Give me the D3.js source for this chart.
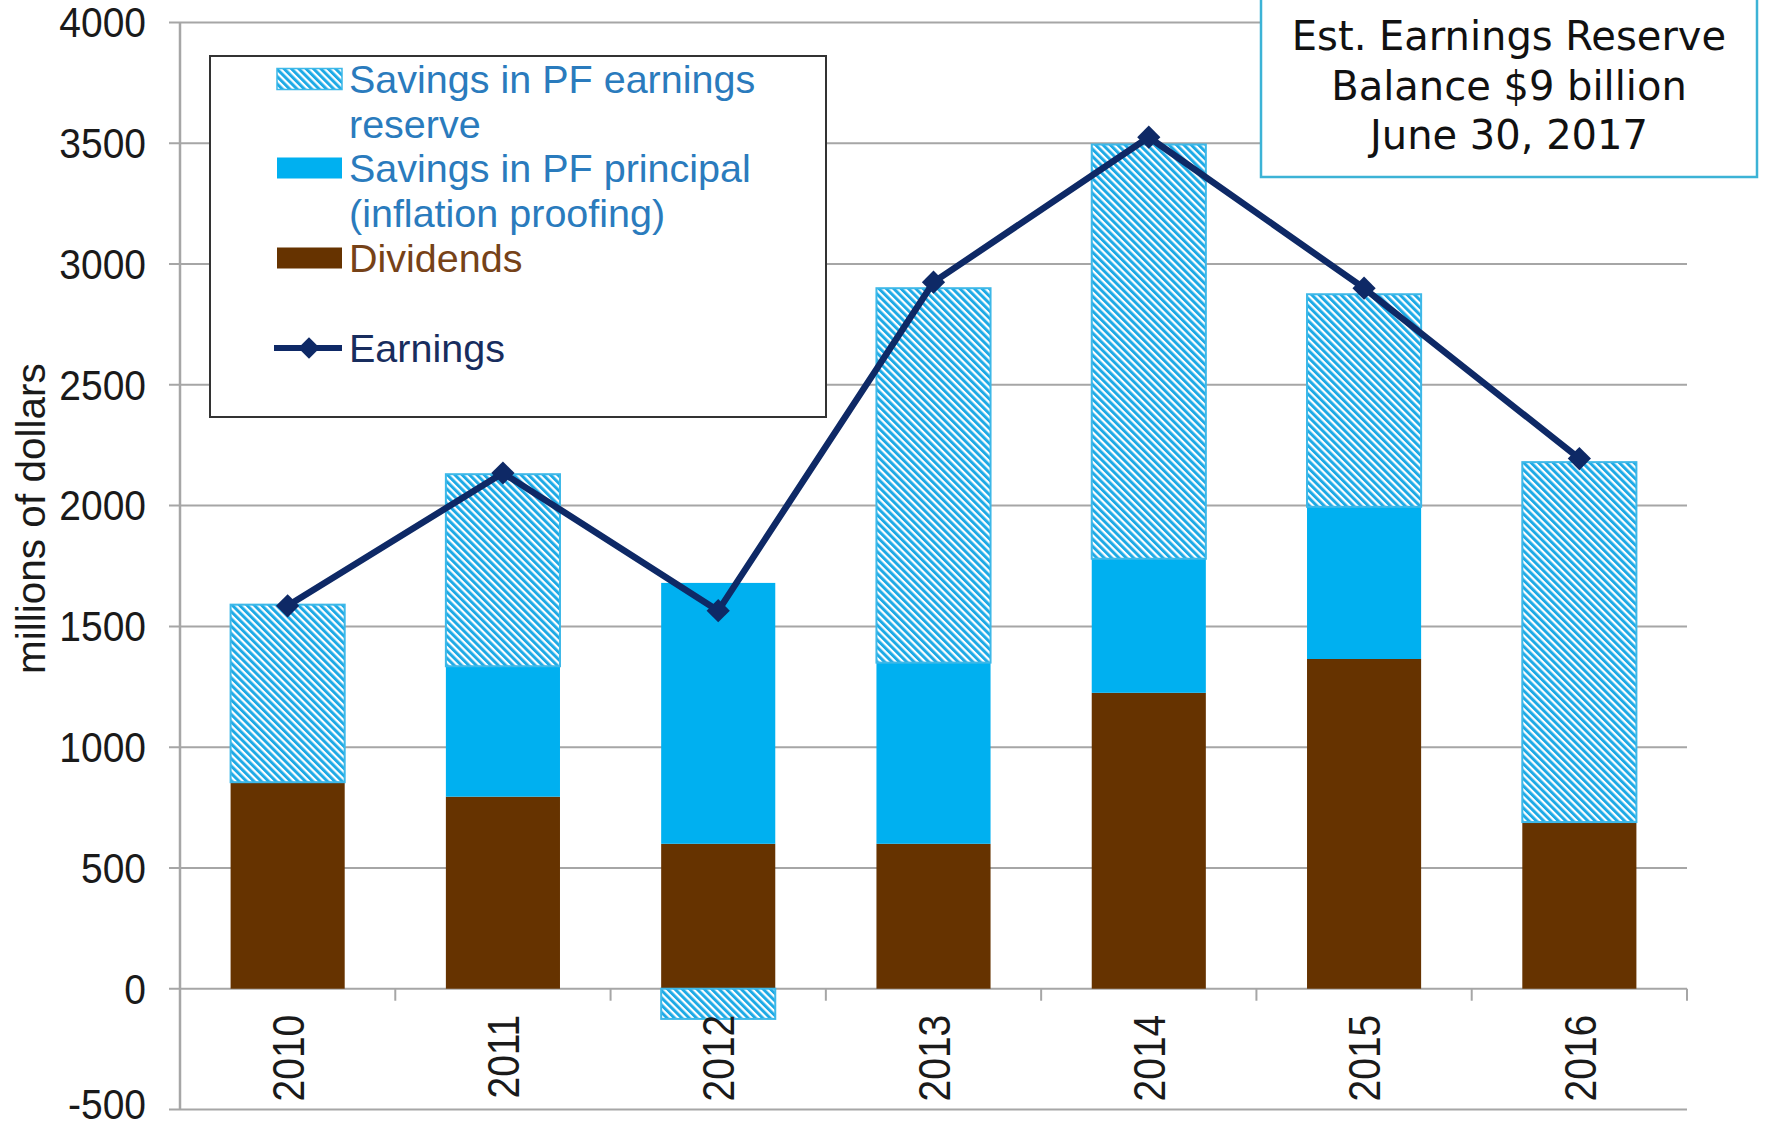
<!DOCTYPE html>
<html>
<head>
<meta charset="utf-8">
<script src="https://cdn.jsdelivr.net/npm/d3@7"></script>
<style>
  body { margin: 0; background: #fff; }
  svg { display: block; }
  text { font-family: "Liberation Sans", Arial, sans-serif; }
</style>
</head>
<body>
<div id="chart"></div>
<script>
// data (millions of dollars)
var years = ["2010", "2011", "2012", "2013", "2014", "2015", "2016"];
var dividends = [855, 795, 600, 600, 1225, 1365, 690];
var principal = [0, 540, 1080, 750, 555, 630, 0];
var reserve = [735, 795, -125, 1550, 1715, 880, 1490];
var earnings = [1585, 2135, 1565, 2925, 3525, 2900, 2195];
var yTicks = [-500, 0, 500, 1000, 1500, 2000, 2500, 3000, 3500, 4000];

var legendLabels = [
    ["Savings in PF earnings", "reserve"],
    ["Savings in PF principal", "(inflation proofing)"],
    ["Dividends"],
    ["Earnings"]
];
var noteLines = ["Est. Earnings Reserve", "Balance $9 billion", "June 30, 2017"];

var width = 1766, height = 1125;
var plot = {left: 180, right: 1687, top: 22.5, bottom: 1109.5};

var colBrown = "#663300";
var colBlue = "#00b0f0";
var colHatch = "#1eaae6";
var colNavy = "#0e2966";
var colGrid = "#a6a6a6";

var svg = d3.select("#chart").append("svg")
    .attr("width", width)
    .attr("height", height);

var defs = svg.append("defs");
var pat = defs.append("pattern")
    .attr("id", "hatch")
    .attr("patternUnits", "userSpaceOnUse")
    .attr("width", 5.2)
    .attr("height", 5.2)
    .attr("patternTransform", "rotate(-45)");
pat.append("rect").attr("width", 5.2).attr("height", 5.2).attr("fill", "#fff");
pat.append("rect").attr("width", 3).attr("height", 5.2).attr("fill", colHatch);

var x = d3.scaleBand()
    .domain(years)
    .range([plot.left, plot.right])
    .paddingInner(0.47)
    .paddingOuter(0.235);

var y = d3.scaleLinear()
    .domain([-500, 4000])
    .range([plot.bottom, plot.top]);

// gridlines (with the little outside tick)
svg.append("g").selectAll("line")
    .data(yTicks)
    .enter().append("line")
    .attr("x1", plot.left - 11)
    .attr("x2", plot.right)
    .attr("y1", function(d) { return y(d); })
    .attr("y2", function(d) { return y(d); })
    .attr("stroke", colGrid)
    .attr("stroke-width", 2);

// y axis labels
var yAxis = d3.axisLeft(y)
    .tickValues(yTicks)
    .tickFormat(function(d) { return String(d); })
    .tickSize(0)
    .tickPadding(34);
var gy = svg.append("g")
    .attr("transform", "translate(" + plot.left + ",0)")
    .call(yAxis);
gy.select(".domain").remove();
gy.selectAll("text")
    .attr("dy", "0.34em")
    .attr("y", function(d) { return d == -500 ? -5 : 0; })
    .attr("transform", "scale(1,1.08)")
    .style("font-size", "39px")
    .attr("fill", "#1a1a1a");

// stacked bars
var rows = years.map(function(yr, i) {
    return {year: yr, dividends: dividends[i], principal: principal[i], reserve: reserve[i]};
});
var series = d3.stack()
    .keys(["dividends", "principal", "reserve"])
    .offset(d3.stackOffsetDiverging)(rows);

var fills = {dividends: colBrown, principal: colBlue, reserve: "url(#hatch)"};

series.forEach(function(s) {
    svg.append("g").selectAll("rect")
        .data(s.filter(function(d) { return d[1] !== d[0]; }))
        .enter().append("rect")
        .attr("x", function(d) { return x(d.data.year); })
        .attr("width", x.bandwidth())
        .attr("y", function(d) { return y(Math.max(d[0], d[1])); })
        .attr("height", function(d) { return Math.abs(y(d[0]) - y(d[1])); })
        .attr("fill", fills[s.key])
        .attr("stroke", s.key == "reserve" ? "#3db8e8" : "none")
        .attr("stroke-width", 2);
});

// vertical axis line
svg.append("line")
    .attr("x1", plot.left).attr("x2", plot.left)
    .attr("y1", y(4000)).attr("y2", y(-500))
    .attr("stroke", colGrid)
    .attr("stroke-width", 2.5);

// x axis: ticks between categories and rotated year labels
var bounds = years.map(function(d) { return x(d) - x.step() * x.paddingOuter(); });
bounds.push(plot.right);
svg.append("g").selectAll("line")
    .data(bounds)
    .enter().append("line")
    .attr("x1", function(d) { return d; })
    .attr("x2", function(d) { return d; })
    .attr("y1", y(0))
    .attr("y2", y(0) + 12)
    .attr("stroke", colGrid)
    .attr("stroke-width", 2);

var xAxis = d3.axisBottom(x).tickSize(0);
var gx = svg.append("g")
    .attr("transform", "translate(0," + y(0) + ")")
    .call(xAxis);
gx.select(".domain").remove();
gx.selectAll("text")
    .attr("transform", "rotate(-90) scale(1,1.12)")
    .attr("x", -26)
    .attr("y", 0)
    .attr("dy", "0.37em")
    .style("text-anchor", "end")
    .style("font-size", "39px")
    .attr("fill", "#1a1a1a");

// y title
svg.append("text")
    .attr("transform", "translate(31," + (y(2000) + 13) + ") rotate(-90)")
    .attr("dy", "0.35em")
    .style("text-anchor", "middle")
    .style("font-size", "40.5px")
    .attr("fill", "#1a1a1a")
    .text("millions of dollars");

// earnings line
var cx = function(d, i) { return x(years[i]) + x.bandwidth() / 2; };
var line = d3.line()
    .x(cx)
    .y(function(d) { return y(d); });

svg.append("path")
    .datum(earnings)
    .attr("d", line)
    .attr("fill", "none")
    .attr("stroke", colNavy)
    .attr("stroke-width", 6.5)
    .attr("stroke-linejoin", "round");

var diamond = d3.symbol().type(d3.symbolSquare).size(270);
svg.append("g").selectAll("path")
    .data(earnings)
    .enter().append("path")
    .attr("d", diamond)
    .attr("transform", function(d, i) { return "translate(" + cx(d, i) + "," + y(d) + ") rotate(45)"; })
    .attr("fill", colNavy);

// legend
var lg = svg.append("g");
lg.append("rect")
    .attr("x", 210).attr("y", 56)
    .attr("width", 616).attr("height", 361)
    .attr("fill", "#fff")
    .attr("stroke", "#333")
    .attr("stroke-width", 2);

var legendRowY = [79, 168, 258, 348];
var legendText = ["#2a7bbd", "#2a7bbd", "#764218", "#182d5e"];
var lineGap = 45;

legendLabels.forEach(function(lines, i) {
    var cy = legendRowY[i];
    if (i < 3) {
        lg.append("rect")
            .attr("x", 277).attr("y", cy - 10.5)
            .attr("width", 65).attr("height", 21)
            .attr("fill", i == 0 ? "url(#hatch)" : (i == 1 ? colBlue : colBrown))
            .attr("stroke", i == 0 ? "#3db8e8" : "none")
            .attr("stroke-width", 1.5);
    } else {
        lg.append("line")
            .attr("x1", 274).attr("x2", 342)
            .attr("y1", cy).attr("y2", cy)
            .attr("stroke", colNavy)
            .attr("stroke-width", 6);
        lg.append("path")
            .attr("d", d3.symbol().type(d3.symbolSquare).size(230))
            .attr("transform", "translate(309," + cy + ") rotate(45)")
            .attr("fill", colNavy);
    }
    lines.forEach(function(t, j) {
        lg.append("text")
            .attr("x", 349)
            .attr("y", cy + j * lineGap)
            .attr("dy", "0.35em")
            .style("font-size", "39.5px")
            .attr("fill", legendText[i])
            .text(t);
    });
});

// note box
var ng = svg.append("g");
ng.append("rect")
    .attr("x", 1261).attr("y", -2)
    .attr("width", 496).attr("height", 179)
    .attr("fill", "#fff")
    .attr("stroke", "#3cb3d6")
    .attr("stroke-width", 2.5);

ng.selectAll("text")
    .data(noteLines)
    .enter().append("text")
    .attr("x", 1509)
    .attr("y", function(d, i) { return 50 + i * 49.5; })
    .style("text-anchor", "middle")
    .style("font-family", "'DejaVu Sans', Verdana, sans-serif")
    .style("font-size", "40px")
    .attr("fill", "#111")
    .text(function(d) { return d; });
</script>
</body>
</html>
